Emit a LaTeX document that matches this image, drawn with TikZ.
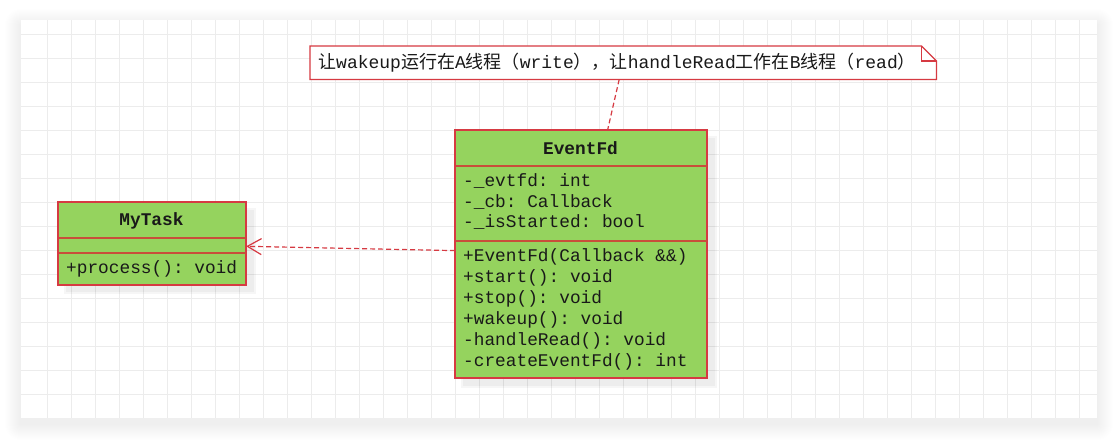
\documentclass[tikz,border=0pt]{standalone}
\usepackage{fontspec}
\setmonofont{Liberation Mono}
\newfontfamily\cjk{Noto Sans CJK SC}
\usetikzlibrary{arrows.meta}
\definecolor{umlfill}{RGB}{149,211,94}
\definecolor{umlline}{RGB}{214,58,66}
\definecolor{umldiv}{RGB}{200,78,58}
\definecolor{gridc}{RGB}{236,236,236}
\definecolor{txt}{RGB}{25,25,25}
\begin{document}
\begin{tikzpicture}[x=1pt,y=-1pt,
  classbox/.style={draw=umlline, fill=umlfill, line width=1.2pt, rectangle, inner sep=0pt, anchor=north west},
  divider/.style={draw=umldiv, line width=1.2pt},
  mono/.style={font=\ttfamily\fontsize{17.8}{20}\selectfont, text=txt, inner sep=0pt},
  monob/.style={font=\ttfamily\bfseries\fontsize{17.8}{20}\selectfont, text=txt, inner sep=0pt},
  dep/.style={draw=umlline, line width=1.2pt, dash pattern=on 5pt off 3pt},
  boxshadow/.style={fill=black, opacity=0.035}
]
\useasboundingbox (0,0) rectangle (1118,439);
\fill[white] (0,0) rectangle (1118,439);
% card shadow
\foreach \r in {1,...,16} \fill[black, opacity=0.0045, rounded corners=\r pt] (21-\r,25-\r) rectangle (1097+\r,424+\r);
\fill[white] (21,20) rectangle (1097,418);
% grid
\foreach \x in {47,71,...,1079} \draw[gridc, line width=1pt] (\x,20) -- (\x,418);
\foreach \y in {34,58,...,394} \draw[gridc, line width=1pt] (21,\y) -- (1097,\y);

% shadows of boxes
\fill[boxshadow] (463,138) rectangle (715,386);
\fill[boxshadow] (461,136) rectangle (717,388);
\fill[boxshadow] (66,210) rectangle (254,292);
\fill[boxshadow] (64,208) rectangle (256,294);

% EventFd class
\node[classbox, minimum width=251pt, minimum height=247pt] (ev) at (455,130) {};
\draw[divider] (ev.west |- 0,166) -- (ev.east |- 0,166);
\draw[divider] (ev.west |- 0,241) -- (ev.east |- 0,241);
\draw[umlline, line width=1.2pt] (ev.north west) rectangle (ev.south east);
\node[monob, anchor=base] (evtitle) at (580.5,154) {EventFd};
\foreach \t [count=\i] in {-\_evtfd: int, -\_cb: Callback, -\_isStarted: bool}
  \node[mono, anchor=base west] (eva\i) at (463,166+20.5*\i) {\t};
\foreach \t [count=\i] in {+EventFd(Callback \&\&), +start(): void, +stop(): void, +wakeup(): void, -handleRead(): void, -createEventFd(): int}
  \node[mono, anchor=base west] (evm\i) at (463,241+20.9*\i) {\t};

% MyTask class
\node[classbox, minimum width=187pt, minimum height=82pt] (mt) at (58,202) {};
\draw[divider] (mt.west |- 0,238) -- (mt.east |- 0,238);
\draw[divider] (mt.west |- 0,253) -- (mt.east |- 0,253);
\draw[umlline, line width=1.2pt] (mt.north west) rectangle (mt.south east);
\node[monob, anchor=base] (mttitle) at (151.5,225) {MyTask};
\node[mono, anchor=base west] (mtm1) at (66,273.5) {+process(): void};

% note
\node[minimum width=626pt, minimum height=33pt, inner sep=0pt, anchor=north west] (note) at (310,46) {};
\draw[umlline, line width=1.2pt, fill=white] (note.north west) -- ([xshift=-15pt]note.north east) -- ([yshift=-15pt]note.north east) -- (note.south east) -- (note.south west) -- cycle;
\draw[umlline, line width=1.2pt] ([xshift=-15pt]note.north east) -- ([xshift=-15pt,yshift=-15pt]note.north east) -- ([yshift=-15pt]note.north east);
\node[anchor=base west, inner sep=0pt, text=txt, font=\fontsize{18}{20}\selectfont] (notetext) at (318,68) {{\cjk 让}\texttt{wakeup}{\cjk 运行在}\texttt{A}{\cjk 线程（}\texttt{write}{\cjk ），让}\texttt{handleRead}{\cjk 工作在}\texttt{B}{\cjk 线程（}\texttt{read}{\cjk ）}};

% connectors
\draw[dep] ([xshift=-4pt]note.south) -- ([xshift=26.5pt]ev.north);
\draw[dep, -{Straight Barb[length=14pt, width=16pt]}] ([yshift=3.5pt]ev.west) -- ([yshift=-2.7pt]mt.east);
\end{tikzpicture}
\end{document}
